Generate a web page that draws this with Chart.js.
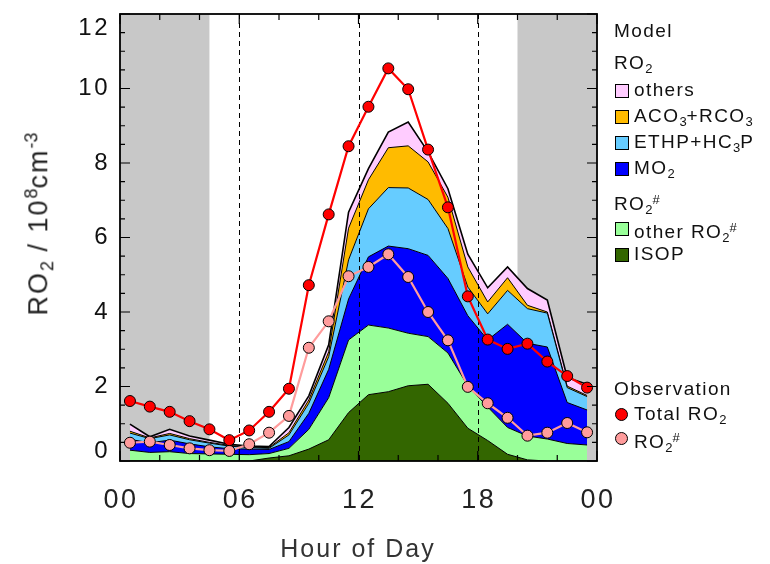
<!DOCTYPE html>
<html>
<head>
<meta charset="utf-8">
<script src="https://cdn.jsdelivr.net/npm/chart.js@4.4.1/dist/chart.umd.min.js"></script>
<style>
    html, body { margin: 0; padding: 0; background: #fff; }
    #wrap { position: relative; width: 770px; height: 564px; overflow: hidden; }
    #chart { position: absolute; left: 0; top: 0; }
    .txt { position: absolute; font-family: "Liberation Sans", Arial, sans-serif; color: #111; white-space: nowrap; }
    .leg { font-size: 19px; letter-spacing: 1.4px; line-height: 20px; }
    .leg sub, .leg sup { font-size: 13px; letter-spacing: 0; }
    .leg sub { vertical-align: -4px; }
    .leg sup { vertical-align: 6px; }
    .sw { position: absolute; width: 12px; height: 12px; border: 1px solid #000; }
    .dot { position: absolute; width: 11px; height: 11px; border: 1px solid #000; border-radius: 50%; }
    #ytitle { font-size: 27px; letter-spacing: 2px; left: 40px; top: 224px; transform: translate(-50%, -50%) rotate(-90deg); color: #222; }
    #ytitle sub, #ytitle sup { font-size: 18px; letter-spacing: 0; }
    #xtitle { font-size: 25px; letter-spacing: 2px; left: 358px; top: 548px; transform: translate(-50%, -50%); color: #333; }
</style>
</head>
<body>
<div id="wrap">
    <canvas id="chart" width="770" height="564"></canvas>
    <div id="ytitle" class="txt">RO<sub>2</sub> / 10<sup>8</sup>cm<sup>-3</sup></div>
    <div id="xtitle" class="txt">Hour of Day</div>
    <div id="legend"></div>
</div>
<script>
const hours = [0.5, 1.5, 2.5, 3.5, 4.5, 5.5, 6.5, 7.5, 8.5, 9.5, 10.5, 11.5,
    12.5, 13.5, 14.5, 15.5, 16.5, 17.5, 18.5, 19.5, 20.5, 21.5, 22.5, 23.5];

// modelled RO2 by species (1e8 cm-3), stacked bottom -> top
const isop      = [0, 0, 0, 0, 0, 0, 0, 0.08, 0.14, 0.32, 0.57, 1.3, 1.78, 1.86, 2.02, 2.06, 1.55, 0.88, 0.55, 0.18, 0.03, 0, 0, 0];
const otherRo2h = [0.29, 0.23, 0.25, 0.2, 0.19, 0.18, 0.17, 0.12, 0.2, 0.53, 1.13, 1.95, 1.87, 1.71, 1.41, 1.28, 1.35, 1.14, 0.9, 0.72, 0.64, 0.59, 0.47, 0.43];
const mo2       = [0.29, 0.26, 0.31, 0.26, 0.19, 0.15, 0.15, 0.11, 0.18, 0.43, 0.76, 1.1, 1.83, 2.2, 2.27, 2.18, 2.0, 1.88, 1.8, 2.77, 2.49, 2.47, 1.1, 0.94];
const ethpHc3p  = [0.17, 0.11, 0.14, 0.11, 0.1, 0.07, 0.04, 0.03, 0.18, 0.27, 0.34, 1.05, 1.29, 1.57, 1.63, 1.5, 1.34, 0.77, 0.7, 0.91, 0.93, 0.91, 0.4, 0.36];
const aco3Rco3  = [0.05, 0.02, 0.04, 0.03, 0.02, 0.02, 0.01, 0.02, 0.06, 0.09, 0.13, 0.85, 0.78, 1.07, 1.13, 1.01, 0.84, 0.54, 0.32, 0.34, 0.09, 0.03, 0.04, 0.03];
const othersRo2 = [0.19, 0.03, 0.11, 0.07, 0.06, 0.03, 0.03, 0.03, 0.14, 0.11, 0.19, 0.43, 0.3, 0.42, 0.64, 0.27, 0.23, 0.34, 0.38, 0.29, 0.45, 0.32, 0.23, 0.3];

// observations
const obsTotal = [1.61, 1.46, 1.32, 1.07, 0.85, 0.56, 0.82, 1.32, 1.94, 4.72, 6.62, 8.45, 9.51, 10.54, 9.98, 8.36, 6.81, 4.42, 3.26, 3.01, 3.15, 2.67, 2.28, 1.97];
const obsRo2h  = [0.49, 0.52, 0.43, 0.34, 0.29, 0.27, 0.45, 0.76, 1.21, 3.04, 3.75, 4.96, 5.21, 5.55, 4.94, 4.0, 3.24, 1.99, 1.55, 1.16, 0.68, 0.76, 1.02, 0.77];

const xTicks = [0, 6, 12, 18, 24];
const xTickLabels = ['00', '06', '12', '18', '00'];
const yTicks = [0, 2, 4, 6, 8, 10, 12];
const nightSpans = [[0, 4.5], [20, 24]];
const dashedHours = [6, 12, 18];

const pts = arr => hours.map((h, i) => ({ x: h, y: arr[i] }));

const areaSpecs = [
    { label: 'ISOP', data: isop, color: '#336600' },
    { label: 'other RO2#', data: otherRo2h, color: '#99ff99' },
    { label: 'MO2', data: mo2, color: '#0000ff' },
    { label: 'ETHP+HC3P', data: ethpHc3p, color: '#66ccff' },
    { label: 'ACO3+RCO3', data: aco3Rco3, color: '#ffbb00' },
    { label: 'others', data: othersRo2, color: '#ffccff' },
];

const areaSets = areaSpecs.map((s, i) => ({
    label: s.label, data: pts(s.data),
    backgroundColor: s.color, borderColor: '#000',
    borderWidth: i === areaSpecs.length - 1 ? 1.6 : 1,
    fill: i === 0 ? 'origin' : '-1',
    pointRadius: 0, tension: 0, stack: 'model',
    order: 2 + i
}));

const font = px => px + 'px "Liberation Sans", Arial, sans-serif';

const frame = {
    id: 'frame',
    beforeDatasetsDraw(chart) {
        const { ctx, chartArea: a, scales: { x } } = chart;
        ctx.save();
        ctx.fillStyle = '#c8c8c8';
        nightSpans.forEach(([s, e]) => {
            const x0 = x.getPixelForValue(s), x1 = x.getPixelForValue(e);
            ctx.fillRect(x0, a.top, x1 - x0, a.bottom - a.top);
        });
        ctx.restore();
    },
    afterDatasetDraw(chart, args) {
        if (args.index !== 0) return; // after the last model layer
        const { ctx, chartArea: a, scales: { x } } = chart;
        ctx.save();
        ctx.strokeStyle = '#000';
        ctx.lineWidth = 1;
        ctx.setLineDash([5, 4]);
        dashedHours.forEach(h => {
            const px = Math.round(x.getPixelForValue(h)) + 0.5;
            ctx.beginPath(); ctx.moveTo(px, a.top); ctx.lineTo(px, a.bottom); ctx.stroke();
        });
        ctx.restore();
    },
    afterDraw(chart) {
        const { ctx, chartArea: a, scales: { x, y } } = chart;
        ctx.save();
        ctx.strokeStyle = '#000';
        ctx.lineWidth = 1.2;
        // x ticks every 2 h, bigger every 6 h
        for (let h = 0; h <= 24; h += 2) {
            const px = x.getPixelForValue(h);
            const len = h % 6 === 0 ? 10 : 6;
            ctx.beginPath();
            ctx.moveTo(px, a.bottom); ctx.lineTo(px, a.bottom - len);
            ctx.moveTo(px, a.top); ctx.lineTo(px, a.top + len);
            ctx.stroke();
        }
        // y ticks every 0.5, bigger every 2
        for (let v = 0; v <= 12; v += 0.5) {
            const py = y.getPixelForValue(v);
            const len = v % 2 === 0 ? 10 : 5;
            ctx.beginPath();
            ctx.moveTo(a.left, py); ctx.lineTo(a.left + len, py);
            ctx.moveTo(a.right, py); ctx.lineTo(a.right - len, py);
            ctx.stroke();
        }
        ctx.lineWidth = 1.8;
        ctx.strokeRect(a.left, a.top, a.right - a.left, a.bottom - a.top);

        ctx.fillStyle = '#111';
        ctx.font = font(24);
        ctx.letterSpacing = '2.5px';
        ctx.textBaseline = 'middle';
        ctx.textAlign = 'right';
        yTicks.forEach(v => {
            let py = y.getPixelForValue(v);
            if (v === 12) py += 14;
            if (v === 0) py -= 10;
            ctx.fillText(String(v), a.left - 10, py);
        });
        ctx.font = font(27);
        ctx.letterSpacing = '2.5px';
        ctx.fillStyle = '#222';
        ctx.textAlign = 'center';
        xTicks.forEach((h, i) => {
            ctx.fillText(xTickLabels[i], x.getPixelForValue(h) + 1, 501);
        });
        ctx.restore();
    }
};

new Chart(document.getElementById('chart'), {
    type: 'line',
    data: {
        datasets: [
            ...areaSets,
            {
                label: 'Total RO2', data: pts(obsTotal), stack: 'obsTotal', order: 0,
                borderColor: '#ff0000', borderWidth: 2.2, fill: false, tension: 0,
                pointRadius: 5.5, pointBackgroundColor: '#ff0000', pointBorderColor: '#000', pointBorderWidth: 1
            },
            {
                label: 'RO2#', data: pts(obsRo2h), stack: 'obsRo2h', order: 1,
                borderColor: '#ff9c9c', borderWidth: 2.2, fill: false, tension: 0,
                pointRadius: 5.5, pointBackgroundColor: '#ff9c9c', pointBorderColor: '#000', pointBorderWidth: 1
            }
        ]
    },
    options: {
        responsive: false, animation: false,
        layout: { padding: { left: 120, top: 14, right: 173, bottom: 103 } },
        plugins: { legend: { display: false }, tooltip: { enabled: false } },
        scales: {
            x: { type: 'linear', min: 0, max: 24, display: false },
            y: { min: 0, max: 12, stacked: true, display: false }
        }
    },
    plugins: [frame]
});

// legend on the right
const legendRows = [
    { y: 31, html: 'Model' },
    { y: 63, html: 'RO<sub>2</sub>' },
    { y: 90, html: 'others', sw: '#ffccff' },
    { y: 116, html: 'ACO<sub>3</sub>+RCO<sub>3</sub>', sw: '#ffbb00' },
    { y: 142, html: 'ETHP+HC<sub>3</sub>P', sw: '#66ccff' },
    { y: 168, html: 'MO<sub>2</sub>', sw: '#0000ff' },
    { y: 200, html: 'RO<sub>2</sub><sup>#</sup>' },
    { y: 228, html: 'other RO<sub>2</sub><sup>#</sup>', sw: '#99ff99' },
    { y: 254, html: 'ISOP', sw: '#336600' },
    { y: 389, html: 'Observation' },
    { y: 414, html: 'Total RO<sub>2</sub>', dot: '#ff0000' },
    { y: 438, html: 'RO<sub>2</sub><sup>#</sup>', dot: '#ff9c9c' },
];
const legend = document.getElementById('legend');
legendRows.forEach(r => {
    const marked = r.sw || r.dot;
    const t = document.createElement('div');
    t.className = 'txt leg';
    t.style.left = (marked ? 634 : 614) + 'px';
    t.style.top = (r.y - 10) + 'px';
    t.innerHTML = r.html;
    legend.appendChild(t);
    if (r.sw) {
        const s = document.createElement('div');
        s.className = 'sw';
        s.style.left = '615px'; s.style.top = (r.y - 6) + 'px';
        s.style.background = r.sw;
        legend.appendChild(s);
    }
    if (r.dot) {
        const d = document.createElement('div');
        d.className = 'dot';
        d.style.left = '615px'; d.style.top = (r.y - 6) + 'px';
        d.style.background = r.dot;
        legend.appendChild(d);
    }
});
</script>
</body>
</html>
